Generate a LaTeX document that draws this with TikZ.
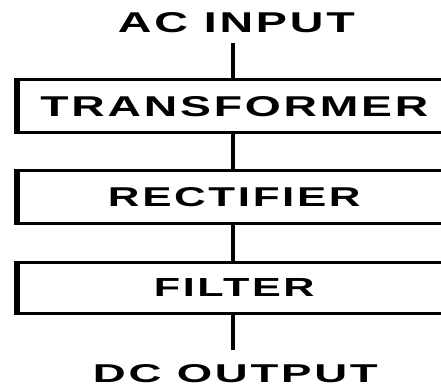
\documentclass[tikz,border=0pt]{standalone}
\usepackage{fontspec}
\setmainfont{Liberation Sans}
\newfontfamily\spacedfont[LetterSpace=6]{Liberation Sans}
\usepackage{graphicx}
\newcommand{\fitlabel}[3]{\resizebox{#1pt}{#2pt}{\spacedfont\bfseries #3\hspace{-0.6pt}}}
\begin{document}
\begin{tikzpicture}[x=1pt,y=-1pt,
  stagebox/.style={draw=black,line width=3pt,rectangle,inner sep=0pt,
    minimum width=430pt,minimum height=#1},
  lbl/.style={inner sep=0pt,text=black},
  wire/.style={draw=black,line width=3.5pt}]
\useasboundingbox (0,0) rectangle (441,387);
\clip (0,0) rectangle (441,387);
\fill[white] (0,0) rectangle (441,387);
\node[lbl] (ac) at (235,23) {\fitlabel{234}{20}{AC INPUT}};
\node[stagebox=53pt] (tr) at (233,106.5) {\raisebox{-0.5pt}{\fitlabel{385}{20}{TRANSFORMER}}};
\node[stagebox=52pt] (re) at (233,197) {\raisebox{-2pt}{\fitlabel{250}{19}{RECTIFIER}}};
\node[stagebox=51pt] (fi) at (233,287.5) {\raisebox{-3pt}{\fitlabel{158}{18}{FILTER}}};
\node[lbl] (dc) at (234,374) {\fitlabel{282}{18}{DC OUTPUT}};
\draw[line width=4.5pt] (tr.north west) -- (tr.south west);
\draw[line width=4.5pt] (re.north west) -- (re.south west);
\draw[line width=4.5pt] (fi.north west) -- (fi.south west);
\draw[wire,shorten <=10pt] (ac.south -| tr.north) -- (tr.north);
\draw[wire] (tr.south) -- (re.north);
\draw[wire] (re.south) -- (fi.north);
\draw[wire,shorten >=15pt] (fi.south) -- (dc.north -| fi.south);
\end{tikzpicture}
\end{document}
